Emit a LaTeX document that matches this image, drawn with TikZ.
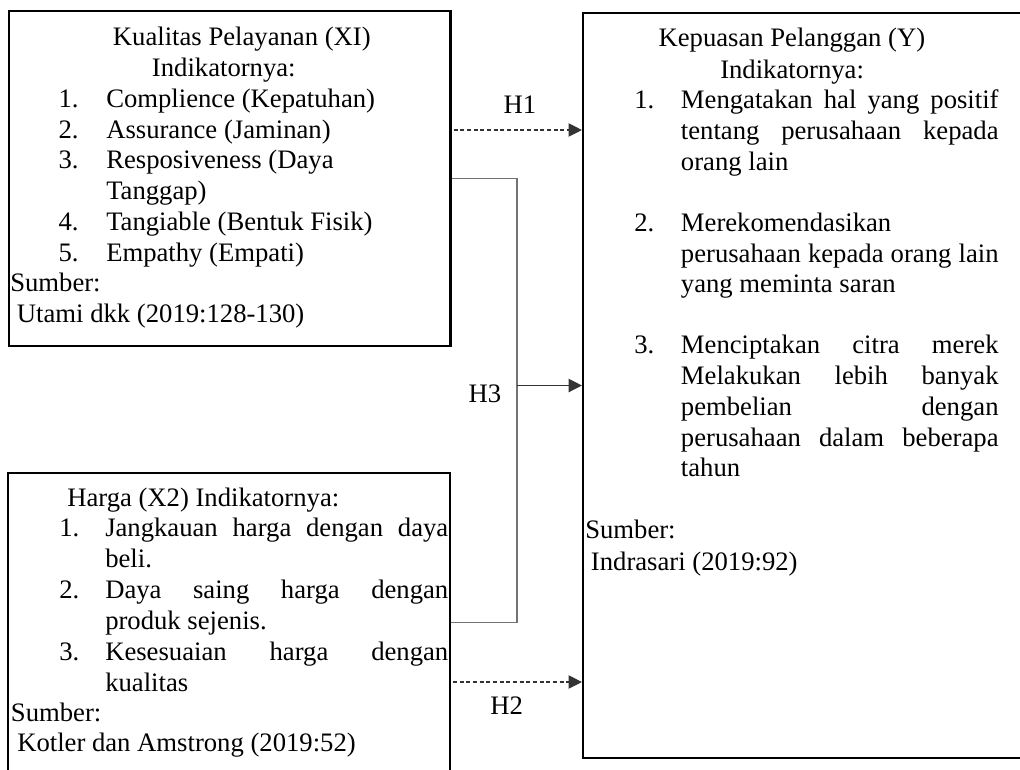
\documentclass[tikz,border=0pt]{standalone}
\usepackage{fontspec}
\setmainfont{Liberation Serif}
\usetikzlibrary{arrows.meta}
\newdimen\pxu \pxu=0.75pt
\newcommand{\jline}[2]{\makebox[#1\pxu][s]{#2}}
\begin{document}
\begin{tikzpicture}[x=0.75pt,y=-0.75pt,
  txt/.style={inner sep=0pt, anchor=base west, font=\fontsize{20pt}{23pt}\selectfont},
  lbl/.style={inner sep=0pt, anchor=base, font=\fontsize{20pt}{23pt}\selectfont},
  boxshape/.style={draw=black, line width=1.6pt, inner sep=0pt, fill=none},
  dasharrow/.style={draw=black!80, line width=0.8pt, dash pattern=on 3pt off 2pt, -{Triangle[length=10pt,width=10pt]}},
  solidconn/.style={draw=black!55, line width=0.9pt},
  solidarrow/.style={draw=black!80, line width=1pt, -{Triangle[length=10pt,width=10pt]}}
]
\useasboundingbox (0,0) rectangle (1020,769);
\clip (0,0) rectangle (1020,769);

% boxes
\node[boxshape, minimum width=331.1pt, minimum height=251.25pt] (b1) at (229.75,178.5) {};
\node[boxshape, minimum width=331.5pt, minimum height=224.6pt] (b2) at (229,622.75) {};
\node[boxshape, minimum width=335.25pt, minimum height=558.75pt] (b3) at (806.5,385.5) {};

% box 1 text
\node[txt] (a1) at (112.7,45) {Kualitas Pelayanan (XI)};
\node[txt] (a2) at (151.7,76) {Indikatornya:};
\node[txt] (a3n) at (58.3,107) {1.};
\node[txt] (a3) at (106,107) {Complience (Kepatuhan)};
\node[txt] (a4n) at (58.3,138) {2.};
\node[txt] (a4) at (106,138) {Assurance (Jaminan)};
\node[txt] (a5n) at (58.3,168.5) {3.};
\node[txt] (a5) at (106,168.5) {Resposiveness (Daya};
\node[txt] (a6) at (106,199.3) {Tanggap)};
\node[txt] (a7n) at (58.3,230) {4.};
\node[txt] (a7) at (106,230) {Tangiable (Bentuk Fisik)};
\node[txt] (a8n) at (58.3,261) {5.};
\node[txt] (a8) at (106,261) {Empathy (Empati)};
\node[txt] (a9) at (10,291.7) {Sumber:};
\node[txt] (a10) at (16.7,322) {Utami dkk (2019:128-130)};

% box 2 text
\node[txt] (c1) at (67,506.7) {Harga (X2) Indikatornya:};
\node[txt] (c2n) at (59,536.7) {1.};
\node[txt] (c2) at (105,536.7) {\jline{343}{Jangkauan harga dengan daya}};
\node[txt] (c3) at (105,567.3) {beli.};
\node[txt] (c4n) at (59,598.3) {2.};
\node[txt] (c4) at (105,598.3) {\jline{343}{Daya saing harga dengan}};
\node[txt] (c5) at (105,629) {produk sejenis.};
\node[txt] (c6n) at (59,660) {3.};
\node[txt] (c6) at (105,660) {\jline{343}{Kesesuaian harga dengan}};
\node[txt] (c7) at (105,691) {kualitas};
\node[txt] (c8) at (10.7,721.7) {Sumber:};
\node[txt] (c9) at (17,751.5) {Kotler dan Amstrong (2019:52)};

% box 3 text
\node[txt] (d1) at (658.3,46.5) {Kepuasan Pelanggan (Y)};
\node[txt] (d2) at (720,78) {Indikatornya:};
\node[txt] (d3n) at (634,108.7) {1.};
\node[txt] (d3) at (680.7,108.7) {\jline{317.6}{Mengatakan hal yang positif}};
\node[txt] (d4) at (680.7,139.6) {\jline{317.6}{tentang perusahaan kepada}};
\node[txt] (d5) at (680.7,170.4) {orang lain};
\node[txt] (d6n) at (634,231) {2.};
\node[txt] (d6) at (680.7,231) {Merekomendasikan};
\node[txt] (d7) at (680.7,262) {\jline{317.6}{perusahaan kepada orang lain}};
\node[txt] (d8) at (680.7,292.9) {yang meminta saran};
\node[txt] (d9n) at (634,353.6) {3.};
\node[txt] (d9) at (680.7,353.6) {\jline{317.6}{Menciptakan citra merek}};
\node[txt] (d10) at (680.7,384.4) {\jline{317.6}{Melakukan lebih banyak}};
\node[txt] (d11) at (680.7,415.3) {\jline{317.6}{pembelian dengan}};
\node[txt] (d12) at (680.7,446) {\jline{317.6}{perusahaan dalam beberapa}};
\node[txt] (d13) at (680.7,476.5) {tahun};
\node[txt] (d14) at (585,538.7) {Sumber:};
\node[txt] (d15) at (590.7,570.5) {Indrasari (2019:92)};

% connectors
\coordinate (h1) at (0,130);
\coordinate (h2) at (0,682);
\coordinate (j) at (517,385.5);
\draw[dasharrow] ([xshift=1.5pt]b1.east |- h1) -- (b3.west |- h1);
\draw[dasharrow] ([xshift=1.5pt]b2.east |- h2) -- (b3.west |- h2);
\draw[solidconn] (b1.east) -| (j) |- (b2.east);
\draw[solidarrow] (j) -- (b3.west);

% labels
\node[lbl] (l1) at (520,113.5) {H1};
\node[lbl] (l3) at (485,402) {H3};
\node[lbl] (l2) at (506.7,714) {H2};
\end{tikzpicture}
\end{document}
